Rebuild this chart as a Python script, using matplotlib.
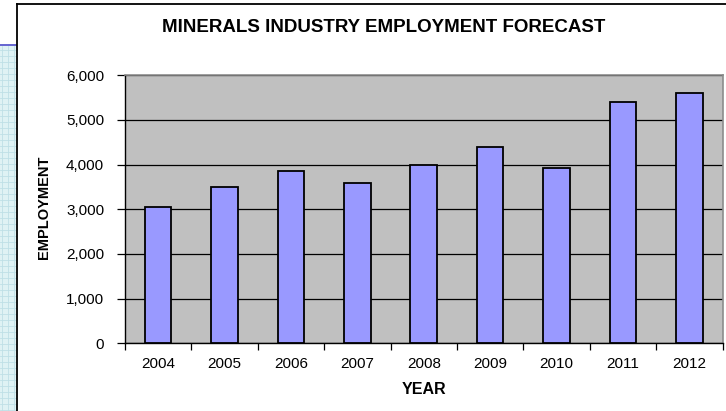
import matplotlib.pyplot as plt
import numpy as np
from matplotlib.lines import Line2D
from matplotlib.patches import Rectangle
from matplotlib.ticker import FuncFormatter

years = ["2004", "2005", "2006", "2007", "2008", "2009", "2010", "2011", "2012"]
employment = [3050, 3500, 3850, 3600, 4000, 4400, 3920, 5400, 5600]
y_ticks = [0, 1000, 2000, 3000, 4000, 5000, 6000]

plt.rcParams['font.family'] = ['Liberation Sans', 'DejaVu Sans']

W, H = 726, 411
fig = plt.figure(figsize=(W / 100, H / 100), dpi=100)

# light blue grid strip on the left, as in the slide background
fig.add_artist(Rectangle((0, 0), 16 / W, 1 - 46 / H, transform=fig.transFigure,
                         facecolor='#dff2f4', edgecolor='none', zorder=0))
for px in np.arange(2, 16, 6):
    fig.add_artist(Line2D([px / W, px / W], [0, 1 - 46 / H], transform=fig.transFigure,
                          color='#bfe0e6', lw=0.6))
for py in np.arange(50, H, 6):
    fig.add_artist(Line2D([0, 16 / W], [1 - py / H, 1 - py / H], transform=fig.transFigure,
                          color='#bfe0e6', lw=0.6))
fig.add_artist(Line2D([0, 16 / W], [1 - 45.5 / H, 1 - 45.5 / H], transform=fig.transFigure,
                      color='#4a4ac8', lw=1.2))

# chart frame
fig.add_artist(Line2D([16.5 / W, 16.5 / W], [0, 1 - 4 / H], transform=fig.transFigure,
                      color='black', lw=1.3))
fig.add_artist(Line2D([16.5 / W, 1], [1 - 4 / H, 1 - 4 / H], transform=fig.transFigure,
                      color='black', lw=1.3))

ax = fig.add_axes([125 / W, 1 - 343.3 / H, (722.5 - 125) / W, (343.3 - 75.3) / H])
ax.set_facecolor('#c0c0c0')

x = np.arange(len(years))
ax.bar(x, employment, width=0.4, color='#9999ff', edgecolor='black', linewidth=1.3, zorder=3)

ax.set_xlim(-0.5, len(years) - 0.5)
ax.set_ylim(0, 6000)
ax.set_yticks(y_ticks)
ax.yaxis.set_major_formatter(FuncFormatter(lambda v, p: f"{int(v):,}"))
ax.grid(axis='y', color='black', lw=0.9, zorder=1)

ax.set_xticks(x)
ax.set_xticklabels(years)
ax.set_xticks(np.arange(-0.5, len(years)), minor=True)
ax.tick_params(axis='x', which='major', length=0, labelsize=11, pad=10)
ax.tick_params(axis='x', which='minor', length=5, width=0.9, direction='out')
ax.tick_params(axis='y', length=6, width=0.9, labelsize=11, pad=9)

for s in ['top', 'right']:
    ax.spines[s].set_color('#8c8c8c')
    ax.spines[s].set_linewidth(1.2)
for s in ['left', 'bottom']:
    ax.spines[s].set_color('black')
    ax.spines[s].set_linewidth(1.0)

ax.set_xlabel("YEAR", fontsize=11.5, fontweight='bold', labelpad=8)
fig.text(44 / W, 1 - 207 / H, "EMPLOYMENT", rotation=90, fontsize=10.5, fontweight='bold',
         ha='center', va='center')
fig.text(384 / W, 1 - 32 / H, "MINERALS INDUSTRY EMPLOYMENT FORECAST", fontsize=13.5,
         fontweight='bold', ha='center', va='baseline')

fig.savefig("out.png", dpi=100)
